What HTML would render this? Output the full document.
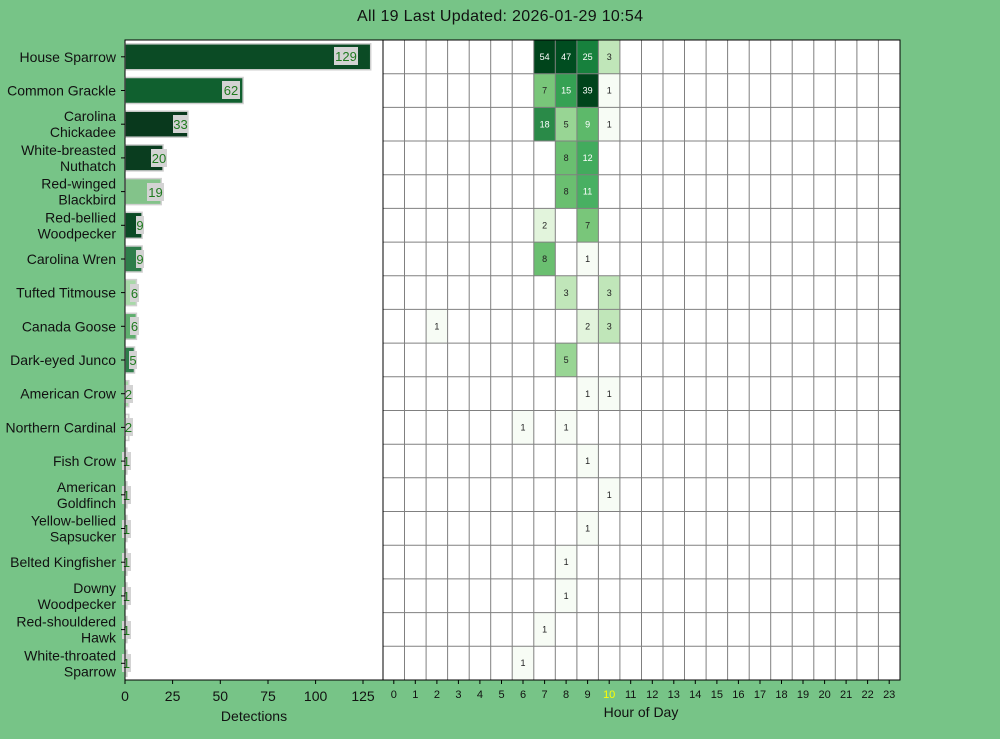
<!DOCTYPE html>
<html><head><meta charset="utf-8"><style>html,body{margin:0;padding:0;background:#77c487}svg{display:block}text{font-family:"Liberation Sans",sans-serif}</style></head><body>
<svg width="1000" height="739" viewBox="0 0 1000 739" xmlns="http://www.w3.org/2000/svg">
<rect width="1000" height="739" fill="#77c487"/>
<text x="500" y="21" font-size="16" text-anchor="middle" textLength="286" fill="#111">All 19 Last Updated: 2026-01-29 10:54</text>
<rect x="125" y="40" width="258" height="640" fill="#fff"/>
<g stroke="#d0d0d0" stroke-width="1.5">
<rect x="125" y="43.8" width="245.7" height="26" fill="#0b4b25"/>
<rect x="125" y="77.5" width="118.1" height="26" fill="#10602f"/>
<rect x="125" y="111.2" width="62.9" height="26" fill="#09391d"/>
<rect x="125" y="144.9" width="38.1" height="26" fill="#0a3d1f"/>
<rect x="125" y="178.6" width="36.2" height="26" fill="#83c38a"/>
<rect x="125" y="212.3" width="17.1" height="26" fill="#0b4a25"/>
<rect x="125" y="246" width="17.1" height="26" fill="#2e7d4a"/>
<rect x="125" y="279.6" width="11.4" height="26" fill="#a8d8a8"/>
<rect x="125" y="313.3" width="11.4" height="26" fill="#5fae6e"/>
<rect x="125" y="347" width="9.5" height="26" fill="#2e7d4a"/>
<rect x="125" y="380.7" width="3.8" height="26" fill="#a8d8a8"/>
<rect x="125" y="414.4" width="3.8" height="26" fill="#eef7ec"/>
<rect x="125" y="448.1" width="1.9" height="26" fill="#a8d8a8"/>
<rect x="125" y="481.8" width="1.9" height="26" fill="#a8d8a8"/>
<rect x="125" y="515.5" width="1.9" height="26" fill="#a8d8a8"/>
<rect x="125" y="549.2" width="1.9" height="26" fill="#a8d8a8"/>
<rect x="125" y="582.9" width="1.9" height="26" fill="#a8d8a8"/>
<rect x="125" y="616.6" width="1.9" height="26" fill="#a8d8a8"/>
<rect x="125" y="650.3" width="1.9" height="26" fill="#a8d8a8"/>
</g>
<g fill="#d3d3d3">
<rect x="334" y="47" width="24" height="18"/>
<rect x="222" y="81" width="18" height="18"/>
<rect x="173" y="115" width="15" height="18"/>
<rect x="151" y="149" width="16" height="18"/>
<rect x="147" y="183" width="17" height="18"/>
<rect x="136" y="216" width="8" height="18"/>
<rect x="136" y="250" width="8" height="18"/>
<rect x="130" y="284" width="9" height="18"/>
<rect x="130" y="317" width="9" height="18"/>
<rect x="129" y="351" width="8" height="18"/>
<rect x="124" y="385" width="9" height="18"/>
<rect x="124" y="418" width="9" height="18"/>
<rect x="122" y="452" width="9" height="18"/>
<rect x="122" y="486" width="9" height="18"/>
<rect x="122" y="520" width="9" height="18"/>
<rect x="122" y="553" width="9" height="18"/>
<rect x="122" y="587" width="9" height="18"/>
<rect x="122" y="621" width="9" height="18"/>
<rect x="122" y="654" width="9" height="18"/>
</g>
<g fill="#1f7a1f" font-size="13" text-anchor="middle">
<text x="346" y="61">129</text><text x="231" y="95">62</text><text x="180.5" y="129">33</text><text x="159" y="163">20</text><text x="155.5" y="197">19</text><text x="140" y="230">9</text><text x="140" y="264">9</text><text x="134.5" y="298">6</text><text x="134.5" y="331">6</text><text x="133" y="365">5</text><text x="128.5" y="399">2</text><text x="128.5" y="432">2</text><text x="126.5" y="466">1</text><text x="126.5" y="500">1</text><text x="126.5" y="534">1</text><text x="126.5" y="567">1</text><text x="126.5" y="601">1</text><text x="126.5" y="635">1</text><text x="126.5" y="668">1</text>
</g>
<rect x="125" y="40" width="258" height="640" fill="none" stroke="#000" stroke-width="1"/>
<g stroke="#000"><line x1="121" x2="125" y1="56.8" y2="56.8"/><line x1="121" x2="125" y1="90.5" y2="90.5"/><line x1="121" x2="125" y1="124.2" y2="124.2"/><line x1="121" x2="125" y1="157.9" y2="157.9"/><line x1="121" x2="125" y1="191.6" y2="191.6"/><line x1="121" x2="125" y1="225.3" y2="225.3"/><line x1="121" x2="125" y1="259" y2="259"/><line x1="121" x2="125" y1="292.6" y2="292.6"/><line x1="121" x2="125" y1="326.3" y2="326.3"/><line x1="121" x2="125" y1="360" y2="360"/><line x1="121" x2="125" y1="393.7" y2="393.7"/><line x1="121" x2="125" y1="427.4" y2="427.4"/><line x1="121" x2="125" y1="461.1" y2="461.1"/><line x1="121" x2="125" y1="494.8" y2="494.8"/><line x1="121" x2="125" y1="528.5" y2="528.5"/><line x1="121" x2="125" y1="562.2" y2="562.2"/><line x1="121" x2="125" y1="595.9" y2="595.9"/><line x1="121" x2="125" y1="629.6" y2="629.6"/><line x1="121" x2="125" y1="663.3" y2="663.3"/>
<line x1="125" x2="125" y1="680" y2="684"/><line x1="172.6" x2="172.6" y1="680" y2="684"/><line x1="220.3" x2="220.3" y1="680" y2="684"/><line x1="268" x2="268" y1="680" y2="684"/><line x1="315.6" x2="315.6" y1="680" y2="684"/><line x1="363" x2="363" y1="680" y2="684"/></g>
<g font-size="14" fill="#111" text-anchor="end">
<text x="116" y="61.8">House Sparrow</text>
<text x="116" y="95.5">Common Grackle</text>
<text x="116" y="121.2">Carolina</text><text x="116" y="137.2">Chickadee</text>
<text x="116" y="154.9">White-breasted</text><text x="116" y="170.9">Nuthatch</text>
<text x="116" y="188.6">Red-winged</text><text x="116" y="204.6">Blackbird</text>
<text x="116" y="222.3">Red-bellied</text><text x="116" y="238.3">Woodpecker</text>
<text x="116" y="264">Carolina Wren</text>
<text x="116" y="297.6">Tufted Titmouse</text>
<text x="116" y="331.3">Canada Goose</text>
<text x="116" y="365">Dark-eyed Junco</text>
<text x="116" y="398.7">American Crow</text>
<text x="116" y="432.4">Northern Cardinal</text>
<text x="116" y="466.1">Fish Crow</text>
<text x="116" y="491.8">American</text><text x="116" y="507.8">Goldfinch</text>
<text x="116" y="525.5">Yellow-bellied</text><text x="116" y="541.5">Sapsucker</text>
<text x="116" y="567.2">Belted Kingfisher</text>
<text x="116" y="592.9">Downy</text><text x="116" y="608.9">Woodpecker</text>
<text x="116" y="626.6">Red-shouldered</text><text x="116" y="642.6">Hawk</text>
<text x="116" y="660.3">White-throated</text><text x="116" y="676.3">Sparrow</text>
</g>
<g font-size="14" fill="#111" text-anchor="middle">
<text x="125" y="701">0</text><text x="172.6" y="701">25</text><text x="220.3" y="701">50</text><text x="268" y="701">75</text><text x="315.6" y="701">100</text><text x="363" y="701">125</text>
<text x="254" y="721">Detections</text>
<text x="641" y="717">Hour of Day</text>
</g>
<rect x="383" y="40" width="517" height="640" fill="#fff"/>
<g>
<rect x="533.8" y="40" width="21.54" height="33.68" fill="#00441b"/>
<rect x="555.3" y="40" width="21.54" height="33.68" fill="#004d20"/>
<rect x="576.9" y="40" width="21.54" height="33.68" fill="#17813d"/>
<rect x="598.4" y="40" width="21.54" height="33.68" fill="#c0e6b9"/>
<rect x="533.8" y="73.7" width="21.54" height="33.68" fill="#79c67a"/>
<rect x="555.3" y="73.7" width="21.54" height="33.68" fill="#35a153"/>
<rect x="576.9" y="73.7" width="21.54" height="33.68" fill="#00441b"/>
<rect x="598.4" y="73.7" width="21.54" height="33.68" fill="#f7fcf5"/>
<rect x="533.8" y="107.4" width="21.54" height="33.68" fill="#2a8a48"/>
<rect x="555.3" y="107.4" width="21.54" height="33.68" fill="#98d594"/>
<rect x="576.9" y="107.4" width="21.54" height="33.68" fill="#5db96a"/>
<rect x="598.4" y="107.4" width="21.54" height="33.68" fill="#f7fcf5"/>
<rect x="555.3" y="141" width="21.54" height="33.68" fill="#6abf70"/>
<rect x="576.9" y="141" width="21.54" height="33.68" fill="#42ab5d"/>
<rect x="555.3" y="174.7" width="21.54" height="33.68" fill="#6abf70"/>
<rect x="576.9" y="174.7" width="21.54" height="33.68" fill="#48b062"/>
<rect x="533.8" y="208.4" width="21.54" height="33.68" fill="#e2f4dc"/>
<rect x="576.9" y="208.4" width="21.54" height="33.68" fill="#79c67a"/>
<rect x="533.8" y="242.1" width="21.54" height="33.68" fill="#6abf70"/>
<rect x="576.9" y="242.1" width="21.54" height="33.68" fill="#f7fcf5"/>
<rect x="555.3" y="275.8" width="21.54" height="33.68" fill="#c0e6b9"/>
<rect x="598.4" y="275.8" width="21.54" height="33.68" fill="#c0e6b9"/>
<rect x="426.1" y="309.4" width="21.54" height="33.68" fill="#f7fcf5"/>
<rect x="576.9" y="309.4" width="21.54" height="33.68" fill="#e2f4dc"/>
<rect x="598.4" y="309.4" width="21.54" height="33.68" fill="#c0e6b9"/>
<rect x="555.3" y="343.1" width="21.54" height="33.68" fill="#98d594"/>
<rect x="576.9" y="376.8" width="21.54" height="33.68" fill="#f7fcf5"/>
<rect x="598.4" y="376.8" width="21.54" height="33.68" fill="#f7fcf5"/>
<rect x="512.2" y="410.5" width="21.54" height="33.68" fill="#f7fcf5"/>
<rect x="555.3" y="410.5" width="21.54" height="33.68" fill="#f7fcf5"/>
<rect x="576.9" y="444.2" width="21.54" height="33.68" fill="#f7fcf5"/>
<rect x="598.4" y="477.8" width="21.54" height="33.68" fill="#f7fcf5"/>
<rect x="576.9" y="511.5" width="21.54" height="33.68" fill="#f7fcf5"/>
<rect x="555.3" y="545.2" width="21.54" height="33.68" fill="#f7fcf5"/>
<rect x="555.3" y="578.9" width="21.54" height="33.68" fill="#f7fcf5"/>
<rect x="533.8" y="612.6" width="21.54" height="33.68" fill="#f7fcf5"/>
<rect x="512.2" y="646.2" width="21.54" height="33.68" fill="#f7fcf5"/>
</g>
<g stroke="#808080" stroke-width="1">
<path d="M404.5 40V680M426.1 40V680M447.6 40V680M469.2 40V680M490.7 40V680M512.2 40V680M533.8 40V680M555.3 40V680M576.9 40V680M598.4 40V680M619.9 40V680M641.5 40V680M663 40V680M684.5 40V680M706.1 40V680M727.6 40V680M749.2 40V680M770.7 40V680M792.2 40V680M813.8 40V680M835.3 40V680M856.9 40V680M878.4 40V680"/>
<path d="M383 73.7H900M383 107.4H900M383 141H900M383 174.7H900M383 208.4H900M383 242.1H900M383 275.8H900M383 309.4H900M383 343.1H900M383 376.8H900M383 410.5H900M383 444.2H900M383 477.8H900M383 511.5H900M383 545.2H900M383 578.9H900M383 612.6H900M383 646.2H900"/>
</g>
<rect x="383" y="40" width="517" height="640" fill="none" stroke="#000" stroke-width="1"/>
<g font-size="9" text-anchor="middle" fill="#222">
<text x="544.6" y="60" fill="#fff">54</text><text x="566.1" y="60" fill="#fff">47</text><text x="587.6" y="60" fill="#fff">25</text><text x="609.2" y="60">3</text>
<text x="544.6" y="93.7">7</text><text x="566.1" y="93.7" fill="#fff">15</text><text x="587.6" y="93.7" fill="#fff">39</text><text x="609.2" y="93.7">1</text>
<text x="544.6" y="127.4" fill="#fff">18</text><text x="566.1" y="127.4">5</text><text x="587.6" y="127.4" fill="#fff">9</text><text x="609.2" y="127.4">1</text>
<text x="566.1" y="161">8</text><text x="587.6" y="161" fill="#fff">12</text>
<text x="566.1" y="194.7">8</text><text x="587.6" y="194.7" fill="#fff">11</text>
<text x="544.6" y="228.4">2</text><text x="587.6" y="228.4">7</text>
<text x="544.6" y="262.1">8</text><text x="587.6" y="262.1">1</text>
<text x="566.1" y="295.8">3</text><text x="609.2" y="295.8">3</text>
<text x="436.9" y="329.4">1</text><text x="587.6" y="329.4">2</text><text x="609.2" y="329.4">3</text>
<text x="566.1" y="363.1">5</text>
<text x="587.6" y="396.8">1</text><text x="609.2" y="396.8">1</text>
<text x="523" y="430.5">1</text><text x="566.1" y="430.5">1</text>
<text x="587.6" y="464.2">1</text>
<text x="609.2" y="497.8">1</text>
<text x="587.6" y="531.5">1</text>
<text x="566.1" y="565.2">1</text>
<text x="566.1" y="598.9">1</text>
<text x="544.6" y="632.6">1</text>
<text x="523" y="666.2">1</text>
</g>
<g stroke="#000"><path d="M393.8 680v4M415.3 680v4M436.9 680v4M458.4 680v4M479.9 680v4M501.5 680v4M523 680v4M544.6 680v4M566.1 680v4M587.6 680v4M609.2 680v4M630.7 680v4M652.3 680v4M673.8 680v4M695.3 680v4M716.9 680v4M738.4 680v4M760 680v4M781.5 680v4M803 680v4M824.6 680v4M846.1 680v4M867.6 680v4M889.2 680v4"/></g>
<g font-size="11" text-anchor="middle" fill="#111">
<text x="393.8" y="698">0</text><text x="415.3" y="698">1</text><text x="436.9" y="698">2</text><text x="458.4" y="698">3</text><text x="479.9" y="698">4</text><text x="501.5" y="698">5</text><text x="523" y="698">6</text><text x="544.6" y="698">7</text><text x="566.1" y="698">8</text><text x="587.6" y="698">9</text><text x="609.2" y="698" fill="#ffff00">10</text><text x="630.7" y="698">11</text><text x="652.3" y="698">12</text><text x="673.8" y="698">13</text><text x="695.3" y="698">14</text><text x="716.9" y="698">15</text><text x="738.4" y="698">16</text><text x="760" y="698">17</text><text x="781.5" y="698">18</text><text x="803" y="698">19</text><text x="824.6" y="698">20</text><text x="846.1" y="698">21</text><text x="867.6" y="698">22</text><text x="889.2" y="698">23</text>
</g>
</svg>
</body></html>
